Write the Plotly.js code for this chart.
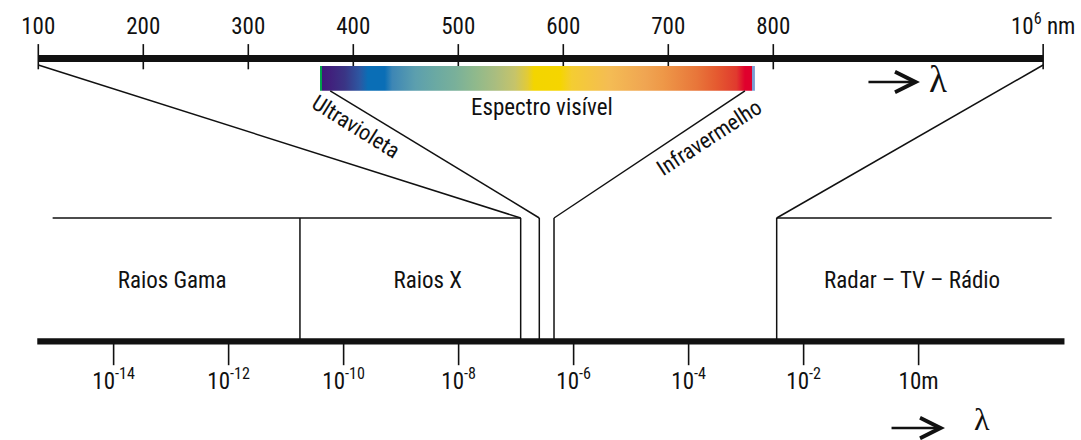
<!DOCTYPE html>
<html>
<head>
<meta charset="utf-8">
<script src="https://cdn.plot.ly/plotly-3.0.1.min.js"></script>
<style>html,body{margin:0;padding:0;background:#fff}#chart{width:1081px;height:440px}</style>
</head>
<body>
<div id="chart"></div>
<script>
// ---------------- data ----------------
// top scale (wavelength in nm, linear part + broken end)
const topTickNm = [100, 200, 300, 400, 500, 600, 700, 800];
const topTickLabels = ['100', '200', '300', '400', '500', '600', '700', '800'];
const topBreakLabel = '10<sup>6</sup> nm';
const topBreakPos = 1057;            // schematic position of 10^6 nm on the broken top scale

// bottom scale (wavelength in metres, logarithmic)
const bottomTickM = [1e-14, 1e-12, 1e-10, 1e-8, 1e-6, 1e-4, 1e-2, 1];
const bottomTickLabels = ['10<sup>-14</sup>', '10<sup>-12</sup>', '10<sup>-10</sup>', '10<sup>-8</sup>',
                          '10<sup>-6</sup>', '10<sup>-4</sup>', '10<sup>-2</sup>', '10m'];
const bottomAxisExtent = [4.7e-16, 344];

// bands on the bottom scale (metres, schematic)
const bandNames = ['Raios Gama', 'Raios X', 'Radar – TV – Rádio'];
const bandLabelM = [1.04e-13, 2.9e-9, 0.77];
const gammaStart = 8.7e-16;
const gammaXEdge = 1.74e-11;
const xRayEnd = 1.2e-7;
const uvColumn = 2.53e-7;
const irColumn = 4.56e-7;
const radioStart = 3.4e-3;
const radioEnd = 206;

// visible spectrum (nm) and its colours
const spectrumNm = [368.3, 369.8, 369.9, 377.8, 392, 406, 414, 430, 437, 459, 478, 497, 516, 535,
                    554, 566, 572, 597, 608, 644, 678, 695, 727, 746, 765, 773, 779.6, 779.7, 782.5];
const spectrumColors = ['#00a04a', '#00a04a', '#40187a', '#41207c', '#3a3585', '#2d57a2', '#0a6eb6', '#0a6eb6',
                        '#3d86b5', '#5c9fae', '#6aa9a3', '#79b09a', '#8fb98c', '#a9bd80', '#c6c46a', '#e3cb35',
                        '#f3d500', '#f5d500', '#f4cd32', '#f4bc54', '#f0a552', '#ee9848', '#e8763a', '#e55a30',
                        '#e03a2e', '#e0002d', '#e0002d', '#7a9ed2', '#7a9ed2'];
const uvEdgeNm = 378;     // where the ultraviolet connector leaves the spectrum
const irEdgeNm = 773;     // where the infrared connector leaves the spectrum

// ---------------- styling / layout constants ----------------
const W = 1081, H = 440;
const NM_RANGE = [63.52, 1093.05];
const LOG_RANGE = [-15.976, 2.824];
const FONT = '"Liberation Sans Narrow", "Roboto Condensed", Roboto, "Liberation Sans", sans-serif';
const SERIF = '"Liberation Serif", "DejaVu Serif", serif';
const BLACK = '#111';
const Y = {
  topLabel: 28, topLine: 58.6, topTick: 56.7, topLineBottom: 65, specTop: 66, specBottom: 90.8,
  specLabel: 107, bandTop: 218, bandLabel: 282, bottomLine: 341.4, bottomTick: 353.3, bottomLabel: 383,
  topArrow: 82, bottomArrow: 428
};

// map a bottom-scale value (m) onto the top axis coordinate, using the two axis ranges
function bottomToTop(m) {
  const f = (Math.log10(m) - LOG_RANGE[0]) / (LOG_RANGE[1] - LOG_RANGE[0]);
  return NM_RANGE[0] + f * (NM_RANGE[1] - NM_RANGE[0]);
}

const thin = {color: BLACK, width: 1.5};
const traces = [];

// top axis line and ticks
traces.push({x: [topTickNm[0], topBreakPos], y: [Y.topLine, Y.topLine], mode: 'lines',
  line: {color: BLACK, width: 7}, hoverinfo: 'skip'});
traces.push({x: topTickNm.concat([topBreakPos]), y: topTickNm.concat([topBreakPos]).map(() => Y.topTick),
  mode: 'markers', marker: {symbol: 'line-ns', size: 18, line: {color: BLACK, width: 1.6}}, hoverinfo: 'skip'});
traces.push({x: topTickNm.concat([topBreakPos]), y: topTickNm.concat([topBreakPos]).map(() => Y.topLabel),
  mode: 'text', text: topTickLabels.concat([topBreakLabel]), textposition: 'middle center',
  textfont: {family: FONT, size: 23, color: BLACK}, hoverinfo: 'skip'});

// visible spectrum bar with horizontal gradient
const s0 = spectrumNm[0], s1 = spectrumNm[spectrumNm.length - 1];
traces.push({x: [s0, s1, s1, s0, s0], y: [Y.specTop, Y.specTop, Y.specBottom, Y.specBottom, Y.specTop],
  mode: 'lines', fill: 'toself', line: {width: 0, color: 'rgba(0,0,0,0)'},
  fillgradient: {type: 'horizontal', colorscale: spectrumNm.map((nm, i) => [(nm - s0) / (s1 - s0), spectrumColors[i]])},
  hoverinfo: 'skip'});

// connectors from the top scale to the bottom bands
traces.push({
  x: [topTickNm[0], bottomToTop(xRayEnd), null,
      uvEdgeNm, bottomToTop(uvColumn), null,
      irEdgeNm, bottomToTop(irColumn), null,
      topBreakPos, bottomToTop(radioStart)],
  y: [Y.topLineBottom, Y.bandTop, null, Y.specBottom, Y.bandTop, null,
      Y.specBottom, Y.bandTop, null, Y.topLineBottom, Y.bandTop],
  mode: 'lines', line: thin, hoverinfo: 'skip'});

// bottom band frame (on log axis)
traces.push({xaxis: 'x2',
  x: [gammaStart, xRayEnd, null, radioStart, radioEnd, null,
      gammaXEdge, gammaXEdge, null, xRayEnd, xRayEnd, null, uvColumn, uvColumn, null,
      irColumn, irColumn, null, radioStart, radioStart],
  y: [Y.bandTop, Y.bandTop, null, Y.bandTop, Y.bandTop, null,
      Y.bandTop, Y.bottomLine, null, Y.bandTop, Y.bottomLine, null, Y.bandTop, Y.bottomLine, null,
      Y.bandTop, Y.bottomLine, null, Y.bandTop, Y.bottomLine],
  mode: 'lines', line: thin, hoverinfo: 'skip'});

// bottom axis line, ticks, labels
traces.push({xaxis: 'x2', x: bottomAxisExtent, y: [Y.bottomLine, Y.bottomLine], mode: 'lines',
  line: {color: BLACK, width: 6.2}, hoverinfo: 'skip'});
traces.push({xaxis: 'x2', x: bottomTickM, y: bottomTickM.map(() => Y.bottomTick), mode: 'markers',
  marker: {symbol: 'line-ns', size: 17, line: {color: BLACK, width: 1.6}}, hoverinfo: 'skip'});
traces.push({xaxis: 'x2', x: bottomTickM, y: bottomTickM.map(() => Y.bottomLabel), mode: 'text',
  text: bottomTickLabels, textposition: 'middle center', textfont: {family: FONT, size: 23, color: BLACK},
  hoverinfo: 'skip'});

// band labels
traces.push({xaxis: 'x2', x: bandLabelM, y: bandLabelM.map(() => Y.bandLabel), mode: 'text',
  text: bandNames, textposition: 'middle center', textfont: {family: FONT, size: 23, color: BLACK},
  hoverinfo: 'skip'});

// arrow helper: open chevron head (arrowhead 5)
function arrow(xref, tail, tip, y) {
  return {xref: xref, yref: 'y', axref: xref, ayref: 'y', x: tip, y: y, ax: tail, ay: y, text: '',
          showarrow: true, arrowhead: 5, arrowsize: 1.55, arrowwidth: 2.6, arrowcolor: BLACK,
          standoff: 0, startstandoff: 0};
}

const annotations = [
  {xref: 'x', yref: 'y', x: 579.4, y: Y.specLabel, text: 'Espectro visível', showarrow: false,
   xanchor: 'center', yanchor: 'middle', font: {family: FONT, size: 23, color: BLACK}},
  {xref: 'x', yref: 'y', x: 402.4, y: 126, text: 'Ultravioleta', showarrow: false, textangle: 32,
   xanchor: 'center', yanchor: 'middle', font: {family: FONT, size: 22, color: BLACK}},
  {xref: 'x', yref: 'y', x: 738.8, y: 137, text: 'Infravermelho', showarrow: false, textangle: -33,
   xanchor: 'center', yanchor: 'middle', font: {family: FONT, size: 22, color: BLACK}},
  // top "→ λ" (nm axis coordinates)
  arrow('x', 889.2, 939.7, Y.topArrow),
  {xref: 'x', yref: 'y', x: 956.9, y: 79, text: 'λ', showarrow: false,
   xanchor: 'center', yanchor: 'middle', font: {family: SERIF, size: 37, color: BLACK}},
  // bottom "→ λ" (log-axis coordinates, given as log10 of metres)
  arrow('x2', -0.497, 0.459, Y.bottomArrow),
  {xref: 'x2', yref: 'y', x: 1.103, y: 419, text: 'λ', showarrow: false,
   xanchor: 'center', yanchor: 'middle', font: {family: SERIF, size: 32, color: BLACK}}
];

const layout = {
  width: W, height: H, margin: {l: 0, r: 0, t: 0, b: 0},
  paper_bgcolor: '#fff', plot_bgcolor: '#fff', showlegend: false,
  xaxis: {range: NM_RANGE, visible: false, fixedrange: true},
  xaxis2: {type: 'log', range: LOG_RANGE, overlaying: 'x', visible: false, fixedrange: true},
  yaxis: {range: [H, 0], visible: false, fixedrange: true},
  annotations: annotations
};

Plotly.newPlot('chart', traces, layout, {displayModeBar: false, staticPlot: true});
</script>
</body>
</html>
